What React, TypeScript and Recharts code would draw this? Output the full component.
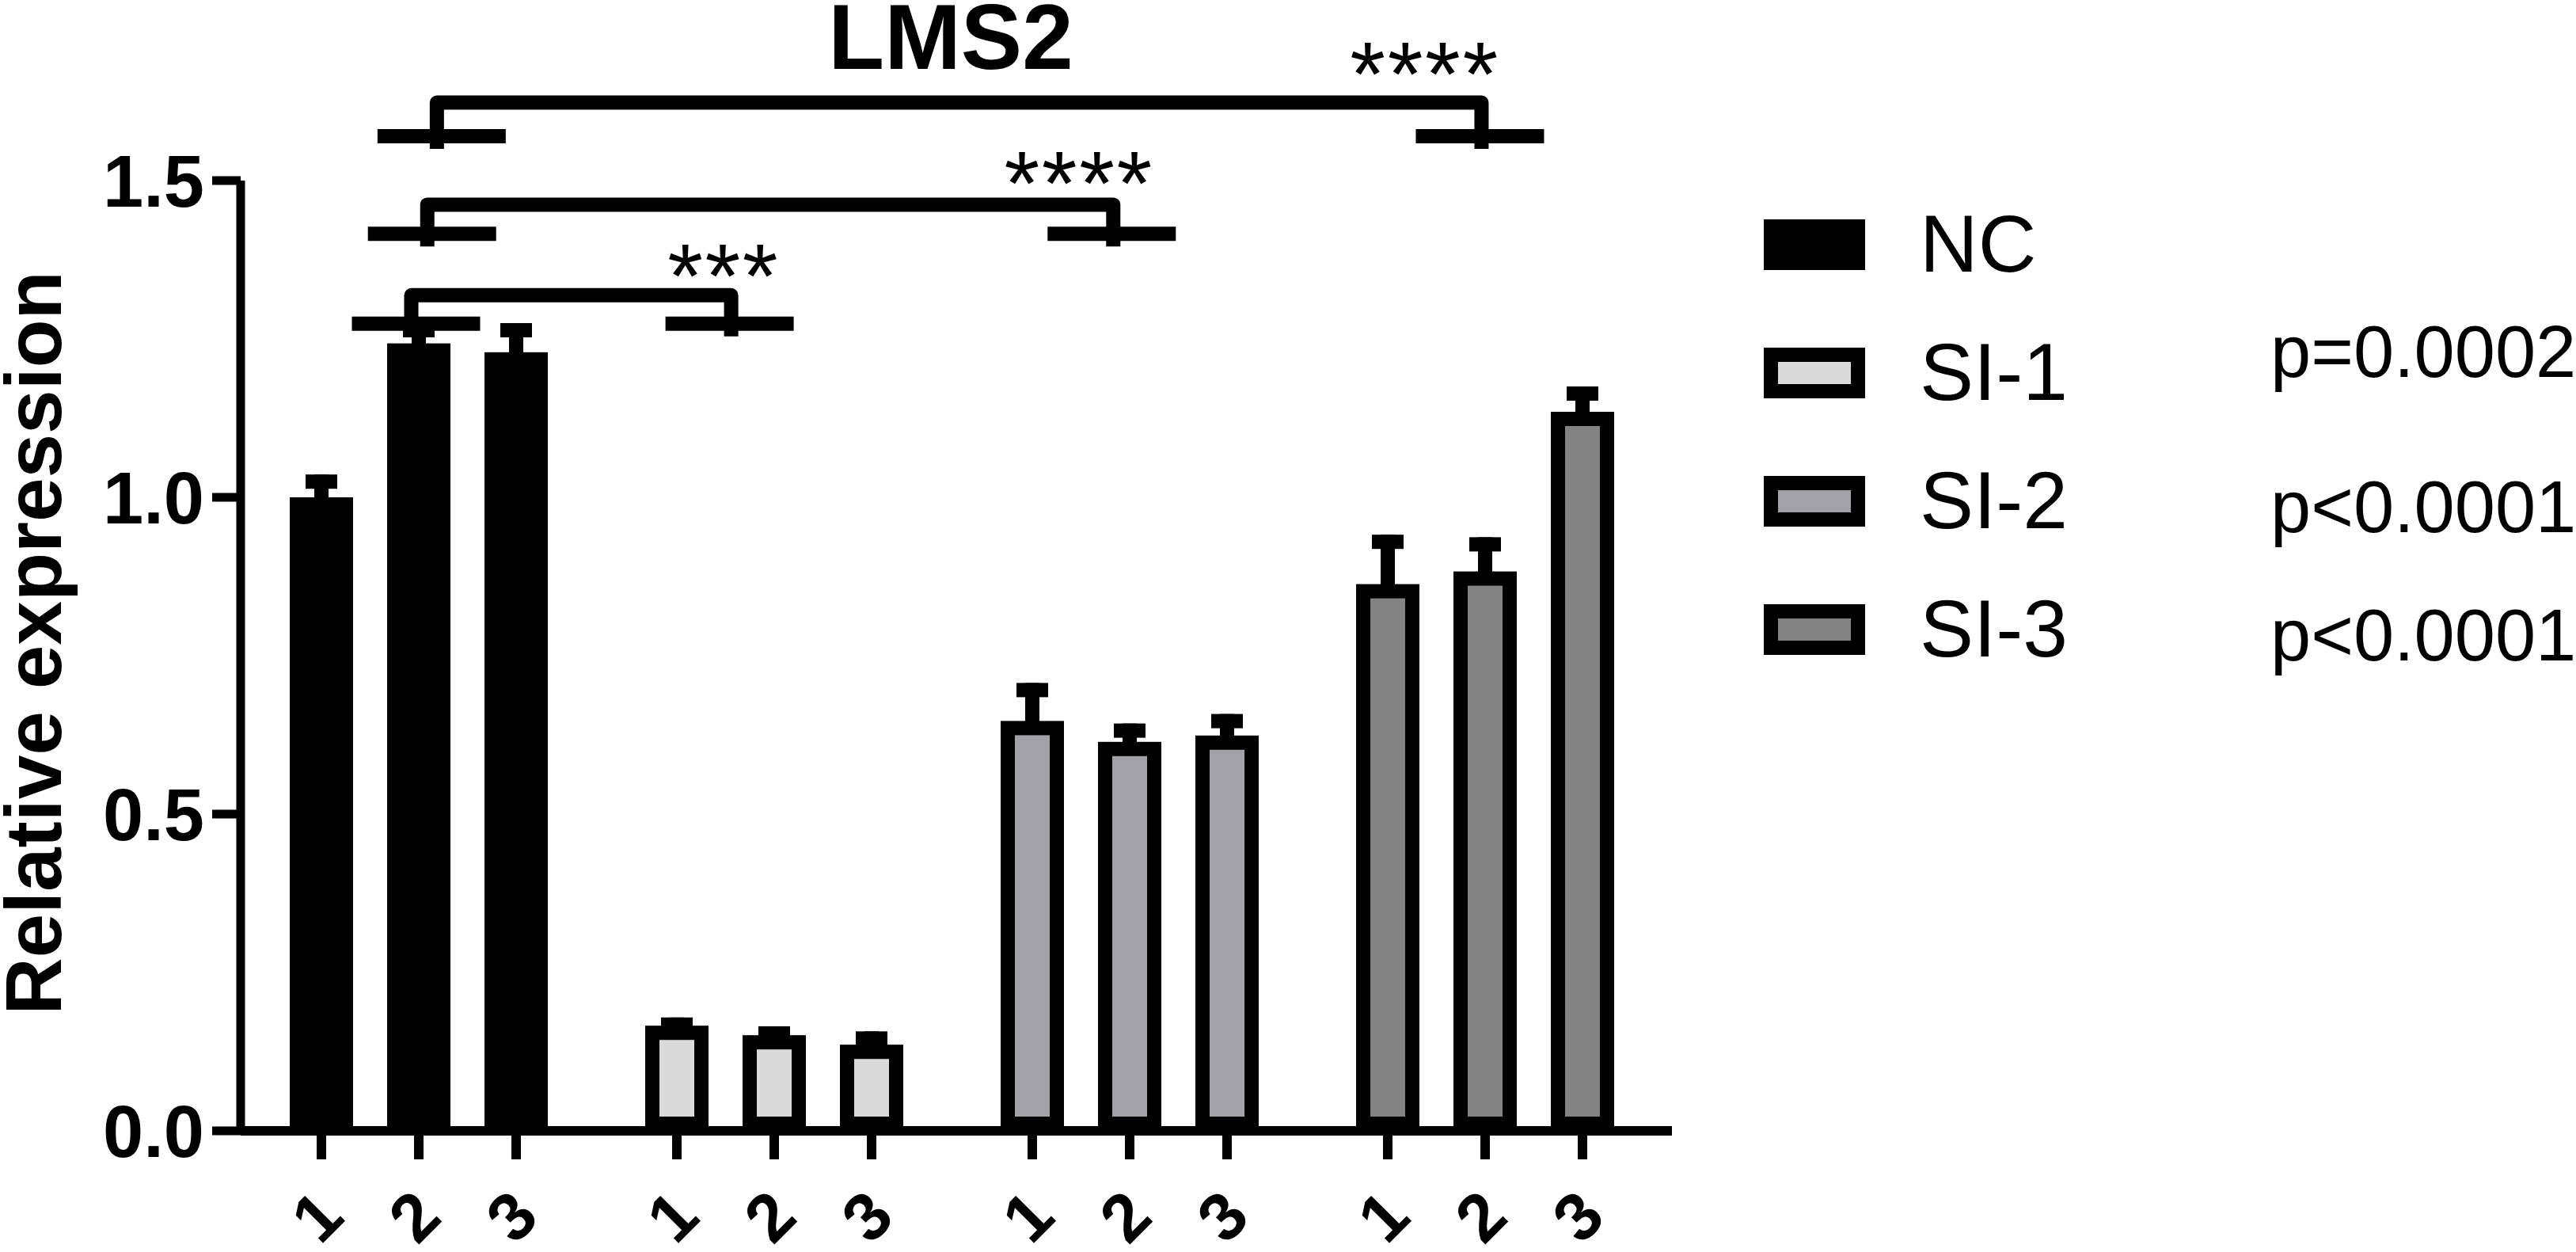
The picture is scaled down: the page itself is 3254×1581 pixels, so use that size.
import React from 'react';
import { BarChart, Bar, XAxis, YAxis, Cell, ReferenceLine, ReferenceDot } from 'recharts';

const FONT = "'Liberation Sans', Arial, Helvetica, sans-serif";

const groups = ['NC', 'SI-1', 'SI-2', 'SI-3'];
const replicates = ['1', '2', '3'];
const fills = ['#000000', '#dadada', '#a2a1a7', '#838383'];

// mean relative expression per replicate
const meanNC = [1.0, 1.243, 1.229];
const meanSI1 = [0.166, 0.151, 0.136];
const meanSI2 = [0.647, 0.614, 0.624];
const meanSI3 = [0.863, 0.883, 1.135];

// SD (drawn above only)
const sdNC = [0.036, 0.032, 0.046];
const sdSI1 = [0.013, 0.014, 0.021];
const sdSI2 = [0.06, 0.029, 0.034];
const sdSI3 = [0.078, 0.054, 0.04];

const pValues = ['', 'p=0.0002', 'p<0.0001', 'p<0.0001'];
const yTicks = [0, 0.5, 1.0, 1.5];

// significance brackets, x in group slots (0..4), y in expression units
const brackets = [
  { from: 0.48, to: 1.38, cap: 1.274, top: 1.319, mark: '***', markX: 1.359, markY: 1.371 },
  { from: 0.525, to: 2.455, cap: 1.416, top: 1.462, mark: '****', markX: 2.359, markY: 1.5175 },
  { from: 0.552, to: 3.491, cap: 1.57, top: 1.623, mark: '****', markX: 3.332, markY: 1.69 },
];

const means = [meanNC, meanSI1, meanSI2, meanSI3];
const sds = [sdNC, sdSI1, sdSI2, sdSI3];
const data = groups.map((g, i) => ({
  group: g,
  r0: means[i][0],
  r1: means[i][1],
  r2: means[i][2],
  e0: sds[i][0],
  e1: sds[i][1],
  e2: sds[i][2],
}));

const BORDER = 18;

function ReplicateBar(props: any) {
  const { x, y, width, height, fill, payload, rep } = props;
  const mean = payload['r' + rep];
  const sd = payload['e' + rep];
  const cx = x + width / 2;
  const base = y + height;
  const errTop = y - sd * (height / mean);
  const lx = cx - 6;
  const ly = base + 108;
  return (
    <g>
      <rect
        x={x + BORDER / 2}
        y={y + BORDER / 2}
        width={width - BORDER}
        height={height - BORDER}
        fill={fill}
        stroke="#000"
        strokeWidth={BORDER}
      />
      <rect x={cx - 9} y={errTop} width={18} height={y - errTop + 1} fill="#000" />
      <rect x={cx - 20} y={errTop} width={40} height={18} fill="#000" />
      <rect x={cx - 6} y={base} width={12} height={36} fill="#000" />
      <text
        x={lx}
        y={ly}
        transform={`rotate(-45 ${lx} ${ly})`}
        textAnchor="middle"
        dominantBaseline="central"
        fontFamily={FONT}
        fontWeight={700}
        fontSize={85}
        fill="#000"
      >
        {replicates[rep]}
      </text>
    </g>
  );
}

function Bracket(props: any) {
  const { x1, y1, x2, y2 } = props;
  const foot = y1 + 16;
  return (
    <g>
      <path
        d={`M${x1},${foot} V${y2} H${x2} V${foot}`}
        fill="none"
        stroke="#000"
        strokeWidth={18}
        strokeLinejoin="round"
      />
      <line x1={x1 - 75} x2={x1 + 87} y1={y1} y2={y1} stroke="#000" strokeWidth={18} />
      <line x1={x2 - 83} x2={x2 + 79} y1={y1} y2={y1} stroke="#000" strokeWidth={18} />
    </g>
  );
}

export default function App() {
  return (
    <div style={{ position: 'absolute', left: 0, top: 0, width: 3254, height: 1581, background: '#fff' }}>
      <BarChart
        width={3254}
        height={1581}
        data={data}
        margin={{ top: 228, right: 1142, bottom: 0, left: 0 }}
        barSize={80}
        barGap={43}
      >
        <XAxis
          dataKey="group"
          height={153}
          tick={false}
          tickLine={false}
          axisLine={{ stroke: '#000', strokeWidth: 12 }}
          padding={{ left: 0, right: 12 }}
        />
        <XAxis
          xAxisId="pos"
          type="number"
          dataKey="r0"
          domain={[0, 4]}
          hide
          allowDataOverflow
          padding={{ left: 0, right: 12 }}
        />
        <YAxis
          width={304}
          domain={[0, 1.5]}
          ticks={yTicks}
          interval={0}
          tickSize={36}
          tickMargin={10}
          axisLine={{ stroke: '#000', strokeWidth: 11 }}
          tickLine={{ stroke: '#000', strokeWidth: 11 }}
          tick={{ fill: '#000', fontSize: 92, fontWeight: 700, fontFamily: FONT }}
          tickFormatter={(v: number) => v.toFixed(1)}
        />
        {replicates.map((r, k) => (
          <Bar
            key={r}
            dataKey={'r' + k}
            isAnimationActive={false}
            shape={(p: any) => <ReplicateBar {...p} rep={k} />}
          >
            {data.map((d, i) => (
              <Cell key={d.group} fill={fills[i]} />
            ))}
          </Bar>
        ))}
        {brackets.map((b, i) => (
          <ReferenceLine
            key={'b' + i}
            xAxisId="pos"
            ifOverflow="visible"
            segment={[
              { x: b.from, y: b.cap },
              { x: b.to, y: b.top },
            ]}
            shape={Bracket}
          />
        ))}
        {brackets.map((b, i) => (
          <ReferenceDot
            key={'m' + i}
            xAxisId="pos"
            x={b.markX}
            y={b.markY}
            ifOverflow="visible"
            shape={(p: any) => (
              <text
                x={p.cx}
                y={p.cy + 57}
                textAnchor="middle"
                fontFamily={FONT}
                fontSize={115}
                letterSpacing={2.6}
                fill="#000"
              >
                {b.mark}
              </text>
            )}
          />
        ))}
      </BarChart>
      <svg
        width={3254}
        height={1581}
        style={{ position: 'absolute', left: 0, top: 0, pointerEvents: 'none' }}
        fontFamily={FONT}
      >
        <text x={1201} y={87} textAnchor="middle" fontSize={116} fontWeight={700} fill="#000">
          LMS2
        </text>
        <text
          x={77}
          y={812}
          transform="rotate(-90 77 812)"
          textAnchor="middle"
          fontSize={100}
          fontWeight={700}
          fill="#000"
        >
          Relative expression
        </text>
        {groups.map((g, i) => {
          const top = 277 + 162 * i;
          return (
            <g key={g}>
              {i === 0 ? (
                <rect x={2228} y={top} width={128} height={64} fill="#000" />
              ) : (
                <rect
                  x={2228 + BORDER / 2}
                  y={top + BORDER / 2}
                  width={128 - BORDER}
                  height={64 - BORDER}
                  fill={fills[i]}
                  stroke="#000"
                  strokeWidth={BORDER}
                />
              )}
              <text x={2425} y={top + 66} fontSize={102} fill="#000">
                {g}
              </text>
            </g>
          );
        })}
        {pValues.map((p, i) =>
          p ? (
            <text key={i} x={2868} y={[0, 476, 672, 834][i]} fontSize={92} fill="#000">
              {p}
            </text>
          ) : null
        )}
      </svg>
    </div>
  );
}
